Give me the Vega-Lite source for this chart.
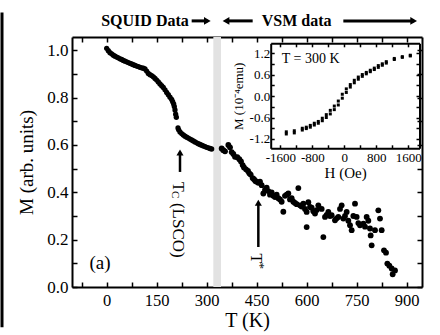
{
  "$schema": "https://vega.github.io/schema/vega-lite/v6.json",
  "width": 350,
  "height": 250,
  "autosize": "none",
  "padding": {"left": 72, "top": 37, "right": 18, "bottom": 48},
  "config": {
    "font": "Liberation Serif",
    "view": {"stroke": null},
    "text": {"font": "Liberation Serif"},
    "axis": {"grid": false, "labelFont": "Liberation Serif", "titleFont": "Liberation Serif", "domainColor": "black", "tickColor": "black", "labelColor": "black", "titleColor": "black", "titleFontWeight": "normal", "domainWidth": 2, "tickWidth": 1.5, "labelFlush": false, "labelOverlap": false, "labelBound": false}
  },
  "datasets": {
    "squid": [
      {"T":0,"M":1.008},{"T":5,"M":0.998},{"T":10,"M":0.99},{"T":15,"M":0.985},{"T":20,"M":0.979},{"T":25,"M":0.975},{"T":30,"M":0.971},{"T":35,"M":0.968},{"T":40,"M":0.964},{"T":45,"M":0.961},{"T":50,"M":0.957},{"T":55,"M":0.954},{"T":60,"M":0.951},{"T":65,"M":0.948},{"T":70,"M":0.945},{"T":75,"M":0.942},{"T":80,"M":0.939},{"T":85,"M":0.936},{"T":90,"M":0.933},{"T":95,"M":0.931},{"T":100,"M":0.928},{"T":105,"M":0.926},{"T":110,"M":0.924},{"T":115,"M":0.921},{"T":120,"M":0.912},{"T":125,"M":0.902},{"T":130,"M":0.897},{"T":135,"M":0.893},{"T":140,"M":0.888},{"T":145,"M":0.881},{"T":150,"M":0.874},{"T":155,"M":0.866},{"T":160,"M":0.858},{"T":165,"M":0.85},{"T":170,"M":0.843},{"T":175,"M":0.833},{"T":180,"M":0.822},{"T":185,"M":0.812},{"T":190,"M":0.802},{"T":195,"M":0.792},{"T":198,"M":0.783},{"T":201,"M":0.773},{"T":203,"M":0.762},{"T":205,"M":0.748},{"T":207,"M":0.73},{"T":209,"M":0.717},{"T":214,"M":0.672},{"T":216,"M":0.664},{"T":220,"M":0.655},{"T":225,"M":0.648},{"T":230,"M":0.642},{"T":235,"M":0.637},{"T":240,"M":0.633},{"T":245,"M":0.629},{"T":250,"M":0.625},{"T":255,"M":0.621},{"T":260,"M":0.617},{"T":265,"M":0.613},{"T":270,"M":0.609},{"T":275,"M":0.605},{"T":280,"M":0.602},{"T":285,"M":0.599},{"T":290,"M":0.596},{"T":295,"M":0.593},{"T":300,"M":0.59},{"T":305,"M":0.588},{"T":310,"M":0.585},{"T":315,"M":0.583}
    ],
    "vsm": [
      {"T":345,"M":0.585},{"T":350,"M":0.578},{"T":355,"M":0.573},{"T":365,"M":0.6},{"T":370,"M":0.59},{"T":375,"M":0.57},{"T":380,"M":0.562},{"T":385,"M":0.55},{"T":392,"M":0.548},{"T":398,"M":0.54},{"T":403,"M":0.53},{"T":408,"M":0.515},{"T":412,"M":0.505},{"T":418,"M":0.497},{"T":424,"M":0.49},{"T":428,"M":0.48},{"T":432,"M":0.475},{"T":438,"M":0.46},{"T":442,"M":0.455},{"T":446,"M":0.448},{"T":450,"M":0.445},{"T":455,"M":0.44},{"T":460,"M":0.445},{"T":465,"M":0.43},{"T":470,"M":0.395},{"T":475,"M":0.41},{"T":480,"M":0.42},{"T":485,"M":0.405},{"T":490,"M":0.39},{"T":495,"M":0.4},{"T":500,"M":0.385},{"T":505,"M":0.38},{"T":510,"M":0.39},{"T":515,"M":0.375},{"T":520,"M":0.37},{"T":525,"M":0.36},{"T":530,"M":0.318},{"T":535,"M":0.385},{"T":540,"M":0.39},{"T":545,"M":0.395},{"T":550,"M":0.37},{"T":555,"M":0.375},{"T":560,"M":0.36},{"T":565,"M":0.355},{"T":570,"M":0.35},{"T":575,"M":0.418},{"T":580,"M":0.345},{"T":585,"M":0.34},{"T":590,"M":0.352},{"T":595,"M":0.33},{"T":600,"M":0.317},{"T":600,"M":0.253},{"T":605,"M":0.358},{"T":610,"M":0.338},{"T":615,"M":0.335},{"T":620,"M":0.32},{"T":625,"M":0.31},{"T":630,"M":0.325},{"T":635,"M":0.345},{"T":645,"M":0.33},{"T":650,"M":0.211},{"T":655,"M":0.296},{"T":660,"M":0.305},{"T":665,"M":0.317},{"T":670,"M":0.3},{"T":675,"M":0.303},{"T":685,"M":0.282},{"T":690,"M":0.29},{"T":695,"M":0.296},{"T":700,"M":0.33},{"T":705,"M":0.345},{"T":710,"M":0.289},{"T":715,"M":0.3},{"T":720,"M":0.317},{"T":725,"M":0.28},{"T":730,"M":0.261},{"T":735,"M":0.24},{"T":740,"M":0.3},{"T":745,"M":0.352},{"T":750,"M":0.296},{"T":755,"M":0.27},{"T":760,"M":0.261},{"T":770,"M":0.268},{"T":775,"M":0.255},{"T":780,"M":0.296},{"T":785,"M":0.28},{"T":790,"M":0.247},{"T":792,"M":0.218},{"T":795,"M":0.176},{"T":805,"M":0.24},{"T":815,"M":0.324},{"T":820,"M":0.289},{"T":825,"M":0.24},{"T":832,"M":0.155},{"T":838,"M":0.145},{"T":842,"M":0.099},{"T":848,"M":0.09},{"T":855,"M":0.078},{"T":858,"M":0.054},{"T":865,"M":0.07}
    ],
    "loop": [
      {"H":-1450,"M":-1.0},{"H":-1250,"M":-0.97},{"H":-1050,"M":-0.9},{"H":-950,"M":-0.87},{"H":-850,"M":-0.82},{"H":-750,"M":-0.76},{"H":-650,"M":-0.71},{"H":-550,"M":-0.62},{"H":-450,"M":-0.52},{"H":-350,"M":-0.4},{"H":-250,"M":-0.28},{"H":-150,"M":-0.14},{"H":-50,"M":0.05},{"H":50,"M":0.2},{"H":150,"M":0.32},{"H":250,"M":0.44},{"H":350,"M":0.53},{"H":450,"M":0.6},{"H":550,"M":0.66},{"H":650,"M":0.72},{"H":750,"M":0.78},{"H":850,"M":0.85},{"H":950,"M":0.9},{"H":1050,"M":0.96},{"H":1250,"M":1.05},{"H":1450,"M":1.1},{"H":1650,"M":1.14},
      {"H":-1450,"M":-1.06},{"H":-1250,"M":-1.03},{"H":-1050,"M":-0.95},{"H":-950,"M":-0.91},{"H":-850,"M":-0.87},{"H":-750,"M":-0.81},{"H":-650,"M":-0.76},{"H":-550,"M":-0.69},{"H":-450,"M":-0.6},{"H":-350,"M":-0.5},{"H":-250,"M":-0.38},{"H":-150,"M":-0.25},{"H":-50,"M":-0.06},{"H":50,"M":0.1},{"H":150,"M":0.25},{"H":250,"M":0.37},{"H":350,"M":0.47},{"H":450,"M":0.55},{"H":550,"M":0.62},{"H":650,"M":0.68},{"H":750,"M":0.74},{"H":850,"M":0.8},{"H":950,"M":0.86},{"H":1050,"M":0.92},{"H":1250,"M":1.02},{"H":1450,"M":1.08},{"H":1650,"M":1.12}
    ]
  },
  "layer": [
    {
      "resolve": {"axis": {"x": "independent", "y": "independent"}},
      "layer": [
        {
          "data": {"values": [{"T1": 320, "T2": 343, "lo": 0, "hi": 1.056}]},
          "mark": {"type": "rect", "color": "#e2e2e2"},
          "encoding": {
            "x": {"field": "T1", "type": "quantitative", "scale": {"domain": [-104, 946], "nice": false, "zero": false},
                  "axis": {"orient": "top", "values": [-75,0,75,150,225,300,375,450,525,600,675,750,825,900], "labels": false, "title": null, "tickSize": -5}},
            "x2": {"field": "T2"},
            "y": {"field": "lo", "type": "quantitative", "scale": {"domain": [0, 1.056], "nice": false, "zero": false},
                  "axis": {"orient": "right", "values": [0,0.1,0.2,0.3,0.4,0.5,0.6,0.7,0.8,0.9,1.0], "labels": false, "title": null, "tickSize": -5}},
            "y2": {"field": "hi"}
          }
        },
        {
          "data": {"name": "squid"},
          "mark": {"type": "circle", "size": 28, "color": "black", "opacity": 1},
          "encoding": {
            "x": {"field": "T", "type": "quantitative", "scale": {"domain": [-104, 946], "nice": false, "zero": false},
                  "axis": {"orient": "bottom", "values": [-75,0,75,150,225,300,375,450,525,600,675,750,825,900], "labelExpr": "datum.value % 150 == 0 ? format(datum.value, 'd') : ''", "title": "T (K)", "tickSize": -5, "labelPadding": 10, "labelFontSize": 16.5, "titleFontSize": 20, "titlePadding": 2}},
            "y": {"field": "M", "type": "quantitative", "scale": {"domain": [0, 1.056], "nice": false, "zero": false},
                  "axis": {"orient": "left", "values": [0,0.1,0.2,0.3,0.4,0.5,0.6,0.7,0.8,0.9,1.0], "labelExpr": "round(datum.value*10) % 2 == 0 ? format(datum.value, '.1f') : ''", "title": "M (arb. units)", "tickSize": -5, "labelPadding": 9, "labelFontSize": 17, "titleFontSize": 19, "titlePadding": 10}}
          }
        },
        {
          "data": {"name": "vsm"},
          "mark": {"type": "circle", "size": 34, "color": "black", "opacity": 1},
          "encoding": {
            "x": {"field": "T", "type": "quantitative", "axis": null},
            "y": {"field": "M", "type": "quantitative", "axis": null}
          }
        },
        {
          "data": {"values": [{"T": -314, "M1": -0.17, "M2": 1.16}]},
          "mark": {"type": "rule", "strokeWidth": 3, "color": "black"},
          "encoding": {
            "x": {"field": "T", "type": "quantitative", "axis": null},
            "y": {"field": "M1", "type": "quantitative", "axis": null},
            "y2": {"field": "M2"}
          }
        },
        {
          "data": {"values": [{"T": 115, "M": 1.124, "label": "SQUID Data"}, {"T": 570, "M": 1.124, "label": "VSM data"}]},
          "mark": {"type": "text", "font": "Liberation Serif", "fontSize": 16, "fontWeight": "bold", "align": "center", "baseline": "middle", "color": "black"},
          "encoding": {
            "x": {"field": "T", "type": "quantitative", "axis": null},
            "y": {"field": "M", "type": "quantitative", "axis": null},
            "text": {"field": "label"}
          }
        },
        {
          "data": {"values": [{"T1": 255, "T2": 302, "M": 1.124}, {"T1": 358, "T2": 438, "M": 1.124}, {"T1": 710, "T2": 921, "M": 1.124}]},
          "mark": {"type": "rule", "strokeWidth": 3, "color": "black"},
          "encoding": {
            "x": {"field": "T1", "type": "quantitative", "axis": null},
            "x2": {"field": "T2"},
            "y": {"field": "M", "type": "quantitative", "axis": null}
          }
        },
        {
          "data": {"values": [{"T": 302, "M": 1.124}, {"T": 921, "M": 1.124}]},
          "mark": {"type": "point", "shape": "triangle-right", "filled": true, "size": 60, "color": "black", "opacity": 1},
          "encoding": {
            "x": {"field": "T", "type": "quantitative", "axis": null},
            "y": {"field": "M", "type": "quantitative", "axis": null}
          }
        },
        {
          "data": {"values": [{"T": 358, "M": 1.124}]},
          "mark": {"type": "point", "shape": "triangle-left", "filled": true, "size": 60, "color": "black", "opacity": 1},
          "encoding": {
            "x": {"field": "T", "type": "quantitative", "axis": null},
            "y": {"field": "M", "type": "quantitative", "axis": null}
          }
        },
        {
          "data": {"values": [{"T": 220, "M1": 0.486, "M2": 0.568}, {"T": 455, "M1": 0.169, "M2": 0.356}]},
          "mark": {"type": "rule", "strokeWidth": 2.5, "color": "black"},
          "encoding": {
            "x": {"field": "T", "type": "quantitative", "axis": null},
            "y": {"field": "M1", "type": "quantitative", "axis": null},
            "y2": {"field": "M2"}
          }
        },
        {
          "data": {"values": [{"T": 220, "M": 0.568}, {"T": 455, "M": 0.356}]},
          "mark": {"type": "point", "shape": "triangle-up", "filled": true, "size": 50, "color": "black", "opacity": 1},
          "encoding": {
            "x": {"field": "T", "type": "quantitative", "axis": null},
            "y": {"field": "M", "type": "quantitative", "axis": null}
          }
        },
        {
          "data": {"values": [{"T": 213, "M": 0.444}]},
          "mark": {"type": "text", "font": "Liberation Serif", "text": "T", "angle": 90, "align": "left", "baseline": "middle", "fontSize": 16, "color": "black"},
          "encoding": {
            "x": {"field": "T", "type": "quantitative", "axis": null},
            "y": {"field": "M", "type": "quantitative", "axis": null}
          }
        },
        {
          "data": {"values": [{"T": 213, "M": 0.444}]},
          "mark": {"type": "text", "font": "Liberation Serif", "text": "C", "angle": 90, "align": "left", "baseline": "middle", "fontSize": 11, "dx": 9, "dy": 3, "color": "black"},
          "encoding": {
            "x": {"field": "T", "type": "quantitative", "axis": null},
            "y": {"field": "M", "type": "quantitative", "axis": null}
          }
        },
        {
          "data": {"values": [{"T": 213, "M": 0.444}]},
          "mark": {"type": "text", "font": "Liberation Serif", "text": "(LSCO)", "angle": 90, "align": "left", "baseline": "middle", "fontSize": 17, "dx": 21, "color": "black"},
          "encoding": {
            "x": {"field": "T", "type": "quantitative", "axis": null},
            "y": {"field": "M", "type": "quantitative", "axis": null}
          }
        },
        {
          "data": {"values": [{"T": 448, "M": 0.142}]},
          "mark": {"type": "text", "font": "Liberation Serif", "text": "T", "angle": 90, "align": "left", "baseline": "middle", "fontSize": 16, "color": "black"},
          "encoding": {
            "x": {"field": "T", "type": "quantitative", "axis": null},
            "y": {"field": "M", "type": "quantitative", "axis": null}
          }
        },
        {
          "data": {"values": [{"T": 448, "M": 0.142}]},
          "mark": {"type": "text", "font": "Liberation Serif", "text": "*", "angle": 90, "align": "left", "baseline": "middle", "fontSize": 13, "dx": 9, "dy": -4, "color": "black"},
          "encoding": {
            "x": {"field": "T", "type": "quantitative", "axis": null},
            "y": {"field": "M", "type": "quantitative", "axis": null}
          }
        },
        {
          "data": {"values": [{"T": -20, "M": 0.1}]},
          "mark": {"type": "text", "font": "Liberation Serif", "text": "(a)", "align": "center", "baseline": "middle", "fontSize": 19, "color": "black"},
          "encoding": {
            "x": {"field": "T", "type": "quantitative", "axis": null},
            "y": {"field": "M", "type": "quantitative", "axis": null}
          }
        }
      ]
    },
    {
      "resolve": {"axis": {"x": "independent", "y": "independent"}},
      "layer": [
        {
          "data": {"name": "loop"},
          "mark": {"type": "square", "size": 9, "color": "black", "opacity": 1},
          "encoding": {
            "x": {"field": "H", "type": "quantitative", "scale": {"domain": [-1840, 1880], "range": [198.7, 347.5], "nice": false, "zero": false},
                  "axis": {"orient": "bottom", "offset": -138.7, "values": [-1600,-1200,-800,-400,0,400,800,1200,1600], "labelExpr": "datum.value % 800 == 0 ? replace(format(datum.value, 'd'), '\u2212', '-') : ''", "title": "H (Oe)", "tickSize": -3.5, "labelPadding": 7, "labelFontSize": 13, "titleFontSize": 15, "titlePadding": 1}},
            "y": {"field": "M", "type": "quantitative", "scale": {"domain": [-1.46, 1.473], "range": [111.3, 6.3], "nice": false, "zero": false},
                  "axis": {"orient": "left", "offset": -198.7, "values": [-1.2,-0.9,-0.6,-0.3,0,0.3,0.6,0.9,1.2], "labelExpr": "abs(round(datum.value*10)) % 6 == 0 ? replace(format(datum.value, '.1f'), '\u2212', '-') : ''", "title": "M (10⁻⁴emu)", "tickSize": -3.5, "labelPadding": 4.5, "labelFontSize": 13, "titleFontSize": 13, "titlePadding": 4}}
          }
        },
        {
          "data": {"values": [{"H": -1565, "M": 1.037}]},
          "mark": {"type": "text", "font": "Liberation Serif", "text": "T = 300 K", "align": "left", "baseline": "middle", "fontSize": 14, "color": "black"},
          "encoding": {
            "x": {"field": "H", "type": "quantitative", "scale": {"domain": [-1840, 1880], "range": [198.7, 347.5], "nice": false, "zero": false},
                  "axis": {"orient": "top", "offset": -6.3, "values": [-1600,-1200,-800,-400,0,400,800,1200,1600], "labels": false, "title": null, "tickSize": -3.5}},
            "y": {"field": "M", "type": "quantitative", "scale": {"domain": [-1.46, 1.473], "range": [111.3, 6.3], "nice": false, "zero": false},
                  "axis": {"orient": "right", "offset": -2.5, "values": [-1.2,-0.9,-0.6,-0.3,0,0.3,0.6,0.9,1.2], "labels": false, "title": null, "tickSize": -3.5}}
          }
        }
      ]
    }
  ],
  "resolve": {"scale": {"x": "independent", "y": "independent"}}
}
